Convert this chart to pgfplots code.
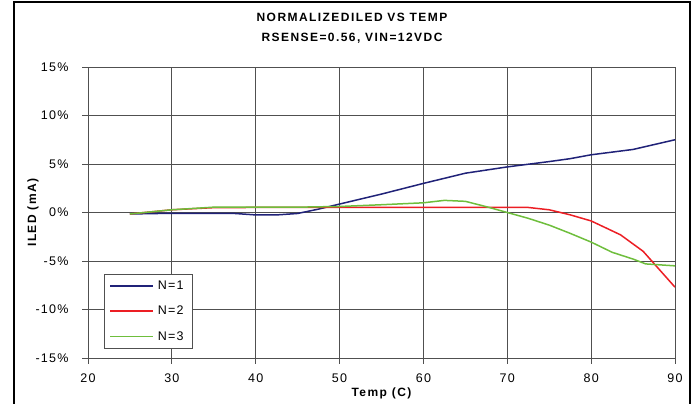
\documentclass[border=0pt]{standalone}
\usepackage{fontspec}
\setmainfont{Liberation Sans}
\usepackage{pgfplots}
\pgfplotsset{compat=1.18}
\definecolor{navyc}{RGB}{32,34,120}
\definecolor{redc}{RGB}{236,30,36}
\definecolor{greenc}{RGB}{110,190,60}
\definecolor{gridc}{RGB}{80,80,80}
\begin{document}
\begin{tikzpicture}[x=1pt,y=1pt]
\useasboundingbox (0,0) rectangle (696,404);
\draw[black, line width=1.2pt] (14,-4) rectangle (690,402);
\begin{axis}[
  at={(88pt,46pt)}, anchor=south west,
  scale only axis, width=587pt, height=291pt,
  xmin=20, xmax=90, ymin=-15, ymax=15,
  xtick={20,30,...,90}, ytick={-15,-10,...,15},
  yticklabel={\pgfmathprintnumber{\tick}\%},
  /pgf/number format/assume math mode=true,
  tick label style={font=\fontsize{12.5}{14}\selectfont\addfontfeatures{LetterSpace=10}},
  xtick pos=bottom, ytick pos=left, tick align=outside,
  major tick length=6pt,
  every tick/.style={gridc, line width=0.9pt},
  xticklabel style={yshift=-6pt},
  yticklabel style={xshift=-10pt},
  grid=major, grid style={gridc, line width=0.9pt},
  axis line style={gridc, line width=0.9pt},
  xlabel={Temp (C)}, ylabel={ILED (mA)},
  label style={font=\bfseries\fontsize{12}{14}\selectfont\addfontfeatures{LetterSpace=12}},
  xlabel style={at={([yshift=-35pt]axis description cs:0.5,0)}, anchor=center},
  ylabel style={at={([xshift=-55pt]axis description cs:0,0.5)}, anchor=center, rotate=0},
  legend style={at={(0.027,0.031)}, anchor=south west, draw=gridc, line width=0.9pt, fill=white,
    font=\fontsize{12.5}{14}\selectfont\addfontfeatures{LetterSpace=10},
    inner xsep=5pt, inner ysep=5pt, row sep=11pt,
    nodes={inner xsep=4pt}},
  legend cell align=left,
  legend image code/.code={\draw[#1, line width=1.5pt] (0pt,0pt) -- (43pt,0pt);},
]
\addplot[navyc, line width=1.5pt] coordinates {
(25,-0.15) (30,-0.08) (35,-0.08) (37.5,-0.1) (40,-0.25) (42.5,-0.25) (45,-0.1) (47.5,0.35) (50,0.87) (55,1.9) (60,3.0) (65,4.05) (70,4.7) (75,5.25) (77.5,5.55) (80,5.95) (85,6.5) (87.5,7.0) (90,7.5)};
\addlegendentry{N=1}
\addplot[redc, line width=1.5pt] coordinates {
(25,-0.15) (30,0.28) (35,0.5) (40,0.52) (45,0.52) (50,0.52) (55,0.52) (60,0.52) (65,0.52) (70,0.52) (72.5,0.52) (75,0.28) (77.5,-0.24) (80,-0.87) (83.5,-2.3) (86.2,-4.0) (90,-7.7)};
\addlegendentry{N=2}
\addplot[greenc, line width=1.5pt] coordinates {
(25,-0.15) (30,0.28) (35,0.55) (40,0.55) (45,0.55) (50,0.62) (55,0.8) (60,1.0) (62.5,1.25) (65,1.15) (67.5,0.6) (70,0) (72.5,-0.6) (75,-1.3) (77.5,-2.15) (80,-3.05) (82.5,-4.1) (85,-4.8) (86.5,-5.3) (90,-5.5)};
\addlegendentry{N=3}
\end{axis}
\node[align=center, font=\bfseries\fontsize{12}{20}\selectfont\addfontfeatures{LetterSpace=12}] at (352,376) {NORMALIZEDILED VS TEMP\\RSENSE=0.56, VIN=12VDC};
\end{tikzpicture}
\end{document}
